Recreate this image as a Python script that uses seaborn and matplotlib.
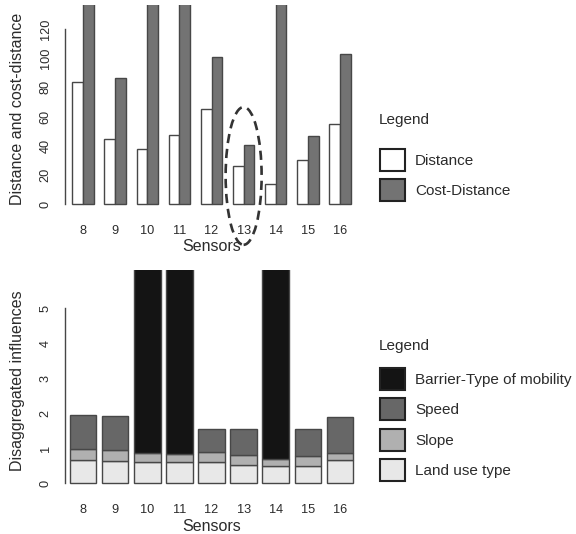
import numpy as np
import pandas as pd
import matplotlib
matplotlib.use("Agg")
import matplotlib.pyplot as plt
from matplotlib.patches import Patch, Ellipse
import seaborn as sns

# ---------------------------------------------------------------
# data
# ---------------------------------------------------------------
sensors = ["8", "9", "10", "11", "12", "13", "14", "15", "16"]

# top panel: distance vs cost-distance
distance = [84, 44.5, 38, 47, 65, 26, 13.5, 30, 55]
# sensors 8, 10, 11, 14 run off the top of the panel
cost_distance = [160, 86.5, 160, 160, 100.5, 40.5, 160, 46.5, 103]

# bottom panel: disaggregated influences (stacked)
land_use = [0.66, 0.64, 0.61, 0.59, 0.59, 0.51, 0.49, 0.49, 0.67]
slope = [0.30, 0.29, 0.24, 0.23, 0.29, 0.29, 0.19, 0.29, 0.20]
speed = [0.99, 1.00, 0.0, 0.0, 0.66, 0.75, 0.0, 0.75, 1.02]
barrier = [0.0, 0.0, 6.0, 6.0, 0.0, 0.0, 6.0, 0.0, 0.0]

top_labels = ["Distance", "Cost-Distance"]
top_colors = ["#ffffff", "#737373"]
bottom_labels = ["Barrier-Type of mobility", "Speed", "Slope", "Land use type"]
bottom_colors = ["#141414", "#676767", "#b0b0b0", "#e8e8e8"]

highlight = "13"

# ---------------------------------------------------------------
# style
# ---------------------------------------------------------------
sns.set_style("white")
plt.rcParams["font.family"] = ["Liberation Sans", "DejaVu Sans"]
TXT = "#2b2b2b"
EDGE = "#474747"
FS = 11
TICK_FS = 9.2

fig = plt.figure(figsize=(5.76, 5.34), dpi=100)
W, H = 576, 534


def px_axes(left, top, right, bottom):
    return fig.add_axes([left / W, 1 - bottom / H, (right - left) / W, (bottom - top) / H])


ax1 = px_axes(65, 5, 358, 212)
ax2 = px_axes(65, 270, 358, 491.75)

# ---------------------------------------------------------------
# top panel
# ---------------------------------------------------------------
top_df = pd.DataFrame({
    "sensor": sensors * 2,
    "measure": [top_labels[0]] * len(sensors) + [top_labels[1]] * len(sensors),
    "value": distance + cost_distance,
})
sns.barplot(data=top_df, x="sensor", y="value", hue="measure", order=sensors,
            hue_order=top_labels, palette=dict(zip(top_labels, top_colors)),
            width=2 / 3, saturation=1, edgecolor=EDGE, linewidth=1,
            errorbar=None, legend=False, ax=ax1)
ax1.set_ylim(-5.5, 136.5)
ax1.set_yticks([0, 20, 40, 60, 80, 100, 120])

# dashed ellipse around sensor 13
i13 = sensors.index(highlight)
ell_mid = (distance[i13] + cost_distance[i13]) / 2 - 14
ax1.add_patch(Ellipse((i13, ell_mid), 1.12, 94.5, fill=False, ls=(0, (3.5, 2.2)),
                      lw=1.9, ec="#333333", clip_on=False, zorder=5))

# ---------------------------------------------------------------
# bottom panel (stacked)
# ---------------------------------------------------------------
layers = [land_use, slope, speed, barrier]
names = bottom_labels[::-1]
cols = bottom_colors[::-1]
base = np.zeros(len(sensors))
for vals, name, col in zip(layers, names, cols):
    vals = np.array(vals)
    sub = pd.DataFrame({"sensor": sensors, "value": vals, "base": base})
    sub = sub[sub["value"] > 0]
    sns.barplot(data=sub, x="sensor", y="value", order=sensors, color=col,
                width=0.833, saturation=1, edgecolor=EDGE, linewidth=1,
                errorbar=None, bottom=sub["base"].values, ax=ax2)
    base = base + vals
ax2.set_ylim(-0.25, 6.09)
ax2.set_yticks([0, 1, 2, 3, 4, 5])

# ---------------------------------------------------------------
# axes cosmetics (R base-graphics look)
# ---------------------------------------------------------------
for ax, ylab, ytop in [(ax1, "Distance and cost-distance", 120),
                       (ax2, "Disaggregated influences", 5)]:
    ax.set_xlim(-0.56, 8.56)
    for s in ["top", "right", "bottom"]:
        ax.spines[s].set_visible(False)
    ax.spines["left"].set_bounds(0, ytop)
    ax.spines["left"].set_color(EDGE)
    ax.spines["left"].set_linewidth(1)
    ax.tick_params(axis="x", length=0, pad=9, labelsize=TICK_FS, labelcolor=TXT)
    ax.tick_params(axis="y", length=6, width=1, color=EDGE, pad=3.5,
                   labelsize=TICK_FS, labelcolor=TXT)
    for lab in ax.get_yticklabels():
        lab.set_rotation(90)
        lab.set_va("center")
    ax.set_xlabel("Sensors", fontsize=11.5, color=TXT, labelpad=2)
    ax.set_ylabel(ylab, fontsize=11.5, color=TXT)
    ax.yaxis.set_label_coords(-40 / 293, 0.5)

# ---------------------------------------------------------------
# legends
# ---------------------------------------------------------------
def add_legend(labels, colors, title_y, first_top):
    fig.text(379 / W, 1 - title_y / H, "Legend", fontsize=FS, color=TXT,
             ha="left", va="center")
    handles = [Patch(facecolor=c, edgecolor="#222222", linewidth=1.5) for c in colors]
    leg = fig.legend(handles, labels, loc="upper left",
                     bbox_to_anchor=(380 / W, 1 - first_top / H),
                     frameon=False, borderpad=0, fontsize=FS,
                     handlelength=1.62, handleheight=1.84, labelspacing=0.55,
                     handletextpad=0.68, borderaxespad=0)
    for t in leg.get_texts():
        t.set_color(TXT)


add_legend(top_labels, top_colors, 120, 149)
add_legend(bottom_labels, bottom_colors, 346, 368)

fig.savefig("out.png", dpi=100)
